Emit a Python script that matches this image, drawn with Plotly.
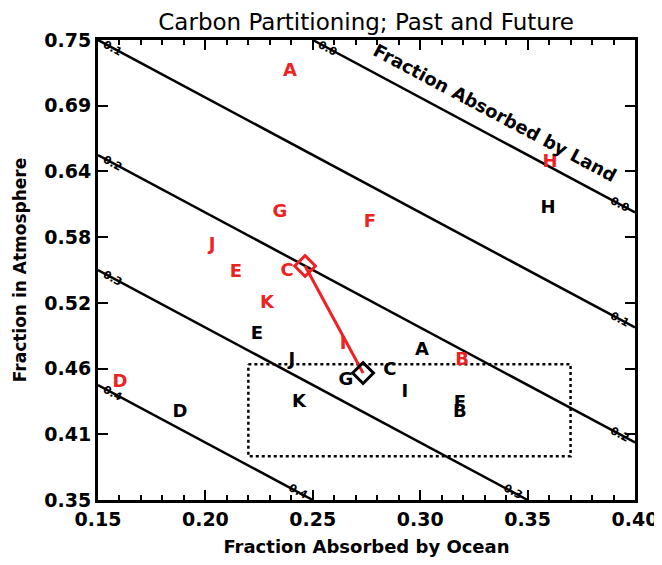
import plotly.graph_objects as go

# Data
land_levels = [0.0, 0.1, 0.2, 0.3, 0.4]
land_labels = ["0.0", "0.1", "0.2", "0.3", "0.4"]

past_letters = ["H", "E", "J", "A", "C", "G", "I", "K", "D", "B", "F"]
past_ocean = [0.3595, 0.2240, 0.2403, 0.3008, 0.2859, 0.2654, 0.2929, 0.2436, 0.1882, 0.3185, 0.3185]
past_atm = [0.6039, 0.4935, 0.4717, 0.4804, 0.4630, 0.4543, 0.4439, 0.4352, 0.4257, 0.4257, 0.4343]

future_letters = ["A", "H", "G", "F", "J", "E", "C", "K", "I", "B", "D"]
future_ocean = [0.2394, 0.3604, 0.2347, 0.2766, 0.2031, 0.2142, 0.2380, 0.2287, 0.2641, 0.3195, 0.1602]
future_atm = [0.7222, 0.6439, 0.5996, 0.5909, 0.5717, 0.5474, 0.5483, 0.5213, 0.4848, 0.4717, 0.4526]

mean_ocean = [0.2734, 0.2464]   # past mean, future mean
mean_atm = [0.4604, 0.5535]

box_ocean = [0.22, 0.37]
box_atm = [0.388, 0.468]

x_range = [0.15, 0.40]
y_range = [0.35, 0.75]
y_ticks = [0.35 + i * 0.4 / 7 for i in range(8)]
y_ticktext = ["0.35", "0.41", "0.46", "0.52", "0.58", "0.64", "0.69", "0.75"]
x_ticks = [0.15, 0.20, 0.25, 0.30, 0.35, 0.40]
x_ticktext = ["0.15", "0.20", "0.25", "0.30", "0.35", "0.40"]

FONT = "DejaVu Sans"
RED = "#ee2222"
fig = go.Figure()

# Land-fraction isolines: atm = 1 - land - ocean, clipped to box
for L, lab in zip(land_levels, land_labels):
    x0 = max(x_range[0], 1 - L - y_range[1])
    x1 = min(x_range[1], 1 - L - y_range[0])
    fig.add_trace(go.Scatter(x=[x0, x1], y=[1 - L - x0, 1 - L - x1], mode="lines",
                             line=dict(color="black", width=2.5), showlegend=False,
                             hoverinfo="skip"))
    for xa in (x0 + 0.007, x1 - 0.007):
        fig.add_annotation(x=xa, y=1 - L - xa, text=lab, showarrow=False, textangle=28,
                           font=dict(family=FONT, size=11, color="black", weight="bold"))

# Box
fig.add_trace(go.Scatter(x=[box_ocean[0], box_ocean[1], box_ocean[1], box_ocean[0], box_ocean[0]],
                         y=[box_atm[1], box_atm[1], box_atm[0], box_atm[0], box_atm[1]],
                         mode="lines", line=dict(color="black", width=2.5, dash="dot"),
                         showlegend=False, hoverinfo="skip"))

# Mean shift line + diamonds
fig.add_trace(go.Scatter(x=mean_ocean, y=mean_atm, mode="lines",
                         line=dict(color=RED, width=3), showlegend=False))
fig.add_trace(go.Scatter(x=[mean_ocean[0]], y=[mean_atm[0]], mode="markers",
                         marker=dict(symbol="diamond-open", size=16, color="black",
                                     line=dict(width=3, color="black")), showlegend=False))
fig.add_trace(go.Scatter(x=[mean_ocean[1]], y=[mean_atm[1]], mode="markers",
                         marker=dict(symbol="diamond-open", size=16, color=RED,
                                     line=dict(width=3, color=RED)), showlegend=False))

fig.add_trace(go.Scatter(x=past_ocean, y=past_atm, mode="text", text=past_letters,
                         textfont=dict(family=FONT, size=18, color="black", weight="bold"),
                         showlegend=False))
fig.add_trace(go.Scatter(x=future_ocean, y=future_atm, mode="text", text=future_letters,
                         textfont=dict(family=FONT, size=18, color=RED, weight="bold"),
                         showlegend=False))

fig.add_annotation(x=0.3346, y=0.687, text="Fraction Absorbed by Land", showarrow=False,
                   textangle=28, font=dict(family=FONT, size=18, color="black", weight="bold"))

axis_common = dict(showgrid=False, zeroline=False, showline=True, linecolor="black",
                   linewidth=3, mirror="ticks", ticks="inside", ticklen=10, tickwidth=2,
                   tickcolor="black", automargin=False,
                   tickfont=dict(family=FONT, size=19, color="black", weight="bold"))

fig.update_xaxes(range=x_range, tickvals=x_ticks, ticktext=x_ticktext,
                 minor=dict(dtick=0.01, ticklen=5, ticks="inside", tickwidth=2, tickcolor="black"),
                 title=dict(text="Fraction Absorbed by Ocean", standoff=12,
                            font=dict(family=FONT, size=18, color="black", weight="bold")),
                 **axis_common)
fig.update_yaxes(range=y_range, tickvals=y_ticks, ticktext=y_ticktext,
                 title=dict(text="Fraction in Atmosphere", standoff=14,
                            font=dict(family=FONT, size=17, color="black", weight="bold")),
                 **axis_common)

fig.update_layout(width=662, height=565, plot_bgcolor="white", paper_bgcolor="white",
                  margin=dict(l=90, r=35, t=32, b=73),
                  title=dict(text="Carbon Partitioning; Past and Future", x=0.541, xanchor="center",
                             y=0.975, yanchor="middle",
                             font=dict(family=FONT, size=23, color="black")))

fig.write_html("out.html")
